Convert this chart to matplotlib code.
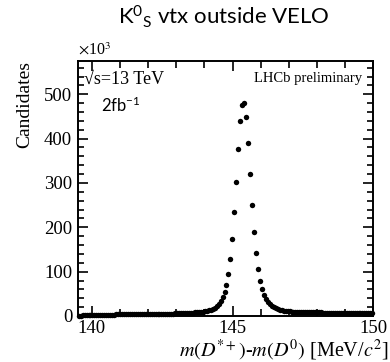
import matplotlib
matplotlib.use("Agg")
import matplotlib.pyplot as plt
from matplotlib.ticker import MultipleLocator
import numpy as np

plt.rcParams['font.family'] = ['Liberation Serif', 'DejaVu Serif']
plt.rcParams['mathtext.fontset'] = 'stix'
plt.rcParams['mathtext.rm'] = 'Lato'
plt.rcParams['mathtext.it'] = 'Lato:italic'
plt.rcParams['mathtext.bf'] = 'Lato:bold'

# Histogram: 150 bins from 139.5 to 150 MeV/c^2 (values in thousands)
x_min = 139.5
x_max = 150.0
n_bins = 150
counts_k = [
    0.5, 1.0, 1.4, 1.7, 1.9, 2.1, 2.3, 2.4, 2.5, 2.6,
    2.7, 2.8, 2.9, 3.0, 3.0, 3.1, 3.2, 3.2, 3.3, 3.4,
    3.4, 3.5, 3.5, 3.6, 3.7, 3.7, 3.8, 3.8, 3.9, 4.0,
    4.0, 4.1, 4.2, 4.2, 4.3, 4.4, 4.5, 4.5, 4.6, 4.7,
    4.8, 4.9, 5.0, 5.1, 5.2, 5.3, 5.4, 5.5, 5.6, 5.8,
    5.9, 6.1, 6.3, 6.5, 6.7, 6.9, 7.1, 7.4, 7.7, 8.0,
    8.3, 8.7, 9.2, 9.8, 10.5, 11.4, 12.6, 14.2, 16.3, 19.0,
    22.5, 27.0, 33.0, 42.0,
    54, 70, 95, 129, 174, 235, 302, 377, 439, 476,
    481, 448, 391, 321, 251, 190, 142, 106, 79, 61,
    48, 39, 32, 27, 23, 20, 17.5, 15.7, 14.2, 13.0,
    12.1, 11.4, 10.8, 10.3, 9.9, 9.6, 9.3, 9.1, 8.9, 8.7,
    8.6, 8.5, 8.4, 8.3, 8.2, 8.1,
    8.0, 8.0, 7.9, 7.9, 7.8, 7.8, 7.8, 7.7, 7.7, 7.7,
    7.6, 7.6, 7.6, 7.6, 7.5, 7.5, 7.5, 7.5, 7.5, 7.4,
    7.4, 7.4, 7.4, 7.4, 7.3, 7.3, 7.3, 7.3, 7.3, 7.3,
]
y_ticks = [0, 100, 200, 300, 400, 500]
x_ticks = [140, 145, 150]

edges = np.linspace(x_min, x_max, n_bins + 1)
centers = 0.5 * (edges[:-1] + edges[1:])

fig = plt.figure(figsize=(3.90, 3.62), dpi=100)
ax = fig.add_axes([0.1992, 0.1271, 0.758, 0.7044])

ax.plot(centers, counts_k, 'o', color='black', markersize=3.9,
        markeredgewidth=0, clip_on=False, zorder=3)

ax.set_xlim(x_min, x_max)
ax.set_ylim(0, 575)
ax.set_xticks(x_ticks)
ax.set_yticks(y_ticks)
ax.xaxis.set_minor_locator(MultipleLocator(1))
ax.yaxis.set_minor_locator(MultipleLocator(20))
ax.tick_params(which='both', direction='in', top=True, right=True,
               width=1.2, labelsize=13.5)
ax.tick_params(which='major', length=7)
ax.tick_params(which='minor', length=4)
ax.tick_params(axis='x', which='minor', length=5)
ax.tick_params(axis='x', pad=3)
ax.tick_params(axis='y', pad=4)
for s in ax.spines.values():
    s.set_linewidth(1.4)

ax.set_ylabel('Candidates', fontsize=14, loc='top', labelpad=8)
ax.set_xlabel(r'$m(D^{*+})$-$m(D^{0})$ [MeV/$c^{2}$]', fontsize=14.5,
              loc='right', labelpad=0)
ax.xaxis.set_label_coords(1.05, -0.085)

ax.text(0.0, 1.008, r'$\times$10$^{3}$', transform=ax.transAxes,
        fontsize=11.5, ha='left', va='bottom')

ax.text(0.02, 0.96, '\u221as=13 TeV', transform=ax.transAxes,
        fontsize=13, ha='left', va='top')
ax.text(0.08, 0.865, r'2fb$^{-1}$', transform=ax.transAxes,
        fontsize=12, ha='left', va='top', family=['Lato', 'DejaVu Sans'],
        math_fontfamily='custom')
ax.text(0.595, 0.955, 'LHCb preliminary', transform=ax.transAxes,
        fontsize=10.5, ha='left', va='top')

fig.text(0.574, 0.953, r'K$^{0}$$_{\mathrm{S}}$ vtx outside VELO',
         fontsize=16, ha='center', va='center',
         family=['Lato', 'DejaVu Sans'], math_fontfamily='custom')

fig.savefig('out.png', dpi=100)
